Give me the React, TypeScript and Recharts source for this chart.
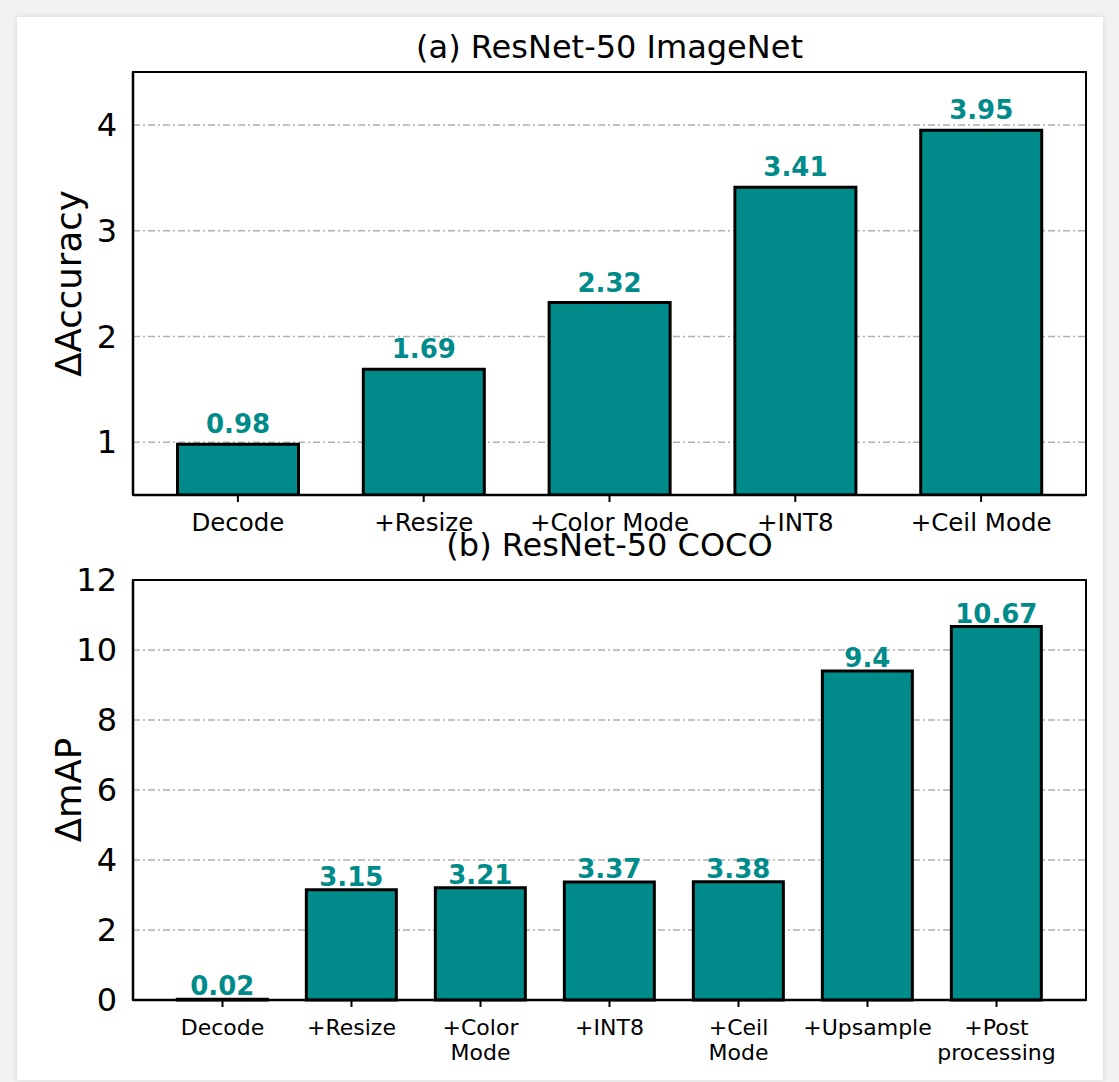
import React from 'react';
import { BarChart, Bar, XAxis, YAxis, CartesianGrid, LabelList } from 'recharts';

// (a) ResNet-50 ImageNet
const imagenetSteps = ['Decode', '+Resize', '+Color Mode', '+INT8', '+Ceil Mode'];
const imagenetDelta = [0.98, 1.69, 2.32, 3.41, 3.95];
const imagenetTicks = [1, 2, 3, 4];

// (b) ResNet-50 COCO
const cocoSteps = ['Decode', '+Resize', '+Color\nMode', '+INT8', '+Ceil\nMode', '+Upsample', '+Post\nprocessing'];
const cocoDelta = [0.02, 3.15, 3.21, 3.37, 3.38, 9.4, 10.67];
const cocoTicks = [0, 2, 4, 6, 8, 10, 12];

const FONT = '"DejaVu Sans", "Liberation Sans", sans-serif';
const TEAL = '#008B8B';

const imagenetData = imagenetSteps.map((step, i) => ({ step, value: imagenetDelta[i] }));
const cocoData = cocoSteps.map((step, i) => ({ step, value: cocoDelta[i] }));

// shared layout of both panels
const WIDTH = 1119;
const PLOT_LEFT = 133;
const PLOT_RIGHT = 1086;
const Y_AXIS_W = 60;

const MultiLineTick = (fontSize: number) => (props: any) => {
  const { x, y, payload } = props;
  const lines = String(payload.value).split('\n');
  return (
    <text x={x} y={y} textAnchor="middle" fontFamily={FONT} fontSize={fontSize} fill="#000">
      {lines.map((line, i) => (
        <tspan key={i} x={x} dy={i === 0 ? fontSize * 0.73 : fontSize * 1.15}>
          {line}
        </tspan>
      ))}
    </text>
  );
};

const titleStyle: React.CSSProperties = {
  position: 'absolute',
  left: PLOT_LEFT,
  width: PLOT_RIGHT - PLOT_LEFT,
  textAlign: 'center',
  fontFamily: FONT,
  fontSize: 32,
  lineHeight: '32px',
  color: '#000',
  whiteSpace: 'nowrap',
};

// black box around a plot area
const Frame = ({ top, bottom }: { top: number; bottom: number }) => (
  <div
    style={{
      position: 'absolute',
      left: PLOT_LEFT - 1.25,
      top: top - 1.25,
      width: PLOT_RIGHT - PLOT_LEFT + 2.5,
      height: bottom - top + 2.5,
      boxSizing: 'border-box',
      border: '2.5px solid #000',
      pointerEvents: 'none',
    }}
  />
);

const axisLine = { stroke: '#000', strokeWidth: 2.5 };

export default function App() {
  return (
    <div style={{ position: 'absolute', left: 0, top: 0, width: WIDTH, height: 1082, background: '#f1f2f4', overflow: 'hidden' }}>
      <div
        style={{
          position: 'absolute',
          left: 17,
          top: 17,
          width: 1086,
          height: 1063,
          background: '#fff',
          boxShadow: '0 0 6px rgba(0,0,0,0.12)',
        }}
      />

      <div style={{ ...titleStyle, top: 31 }}>(a) ResNet-50 ImageNet</div>
      <div style={{ position: 'absolute', left: 0, top: 0 }}>
        <BarChart
          width={WIDTH}
          height={540}
          data={imagenetData}
          margin={{ top: 72, right: WIDTH - PLOT_RIGHT, left: PLOT_LEFT - Y_AXIS_W, bottom: 0 }}
          barCategoryGap="17.5%"
        >
          <CartesianGrid vertical={false} stroke="#b0b0b0" strokeWidth={1.5} strokeDasharray="7 3 2 3" />
          <XAxis
            dataKey="step"
            height={45}
            padding={{ left: 12, right: 12 }}
            axisLine={axisLine}
            tickLine={{ stroke: '#000', strokeWidth: 2 }}
            tickSize={7}
            tickMargin={11}
            interval={0}
            tick={MultiLineTick(24.5)}
          />
          <YAxis
            width={Y_AXIS_W}
            domain={[0.5, 4.5]}
            ticks={imagenetTicks}
            allowDataOverflow
            axisLine={axisLine}
            tickLine={false}
            tickSize={0}
            tickMargin={16}
            tick={{ fill: '#000', fontSize: 32, fontFamily: FONT }}
            label={{
              value: 'ΔAccuracy',
              angle: -90,
              position: 'insideLeft',
              offset: -5,
              fill: '#000',
              fontSize: 35.5,
              fontFamily: FONT,
              style: { textAnchor: 'middle' },
            }}
          />
          <Bar dataKey="value" fill={TEAL} stroke="#000" strokeWidth={3} isAnimationActive={false}>
            <LabelList
              dataKey="value"
              position="top"
              offset={11}
              fill={TEAL}
              fontSize={26}
              fontWeight="bold"
              fontFamily={FONT}
            />
          </Bar>
        </BarChart>
      </div>
      <Frame top={72} bottom={495} />

      <div style={{ ...titleStyle, top: 529 }}>(b) ResNet-50 COCO</div>
      <div style={{ position: 'absolute', left: 0, top: 540 }}>
        <BarChart
          width={WIDTH}
          height={542}
          data={cocoData}
          margin={{ top: 40, right: WIDTH - PLOT_RIGHT, left: PLOT_LEFT - Y_AXIS_W, bottom: 0 }}
          barCategoryGap="15%"
        >
          <CartesianGrid vertical={false} stroke="#b0b0b0" strokeWidth={1.5} strokeDasharray="7 3 2 3" />
          <XAxis
            dataKey="step"
            height={82}
            padding={{ left: 25, right: 25 }}
            axisLine={axisLine}
            tickLine={{ stroke: '#000', strokeWidth: 2 }}
            tickSize={7}
            tickMargin={12}
            interval={0}
            tick={MultiLineTick(22)}
          />
          <YAxis
            width={Y_AXIS_W}
            domain={[0, 12]}
            ticks={cocoTicks}
            axisLine={axisLine}
            tickLine={false}
            tickSize={0}
            tickMargin={16}
            tick={{ fill: '#000', fontSize: 32, fontFamily: FONT }}
            label={{
              value: 'ΔmAP',
              angle: -90,
              position: 'insideLeft',
              offset: -5,
              fill: '#000',
              fontSize: 35.5,
              fontFamily: FONT,
              style: { textAnchor: 'middle' },
            }}
          />
          <Bar dataKey="value" fill={TEAL} stroke="#000" strokeWidth={3} isAnimationActive={false}>
            <LabelList
              dataKey="value"
              position="top"
              offset={4}
              fill={TEAL}
              fontSize={26}
              fontWeight="bold"
              fontFamily={FONT}
            />
          </Bar>
        </BarChart>
      </div>
      <Frame top={580} bottom={1000} />
    </div>
  );
}
